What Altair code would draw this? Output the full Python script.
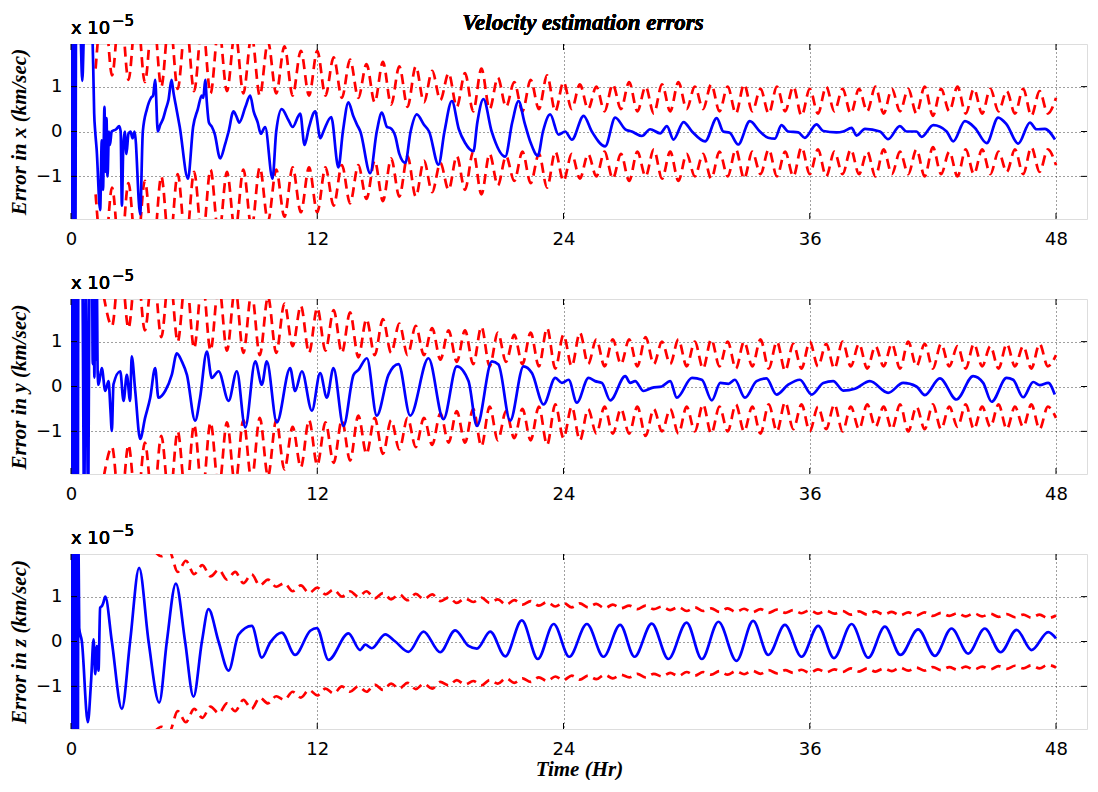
import altair as alt
import pandas as pd

# ---------------- data (units of 1e-5 km/sec, time in hours) ----------------
XTICKS = [0, 12, 24, 36, 48]
YTICKS = [-1, 0, 1]

# time base of the sigma bound curves (extrema every ~0.4 h)
T_SIG = [1.2, 1.6, 2.0, 2.4, 2.8, 3.2, 3.6, 4.0, 4.4, 4.8,
         5.2, 5.6, 6.0, 6.4, 6.8, 7.2, 7.6, 8.0, 8.4, 8.8,
         9.2, 9.6, 10.0, 10.4, 10.8, 11.2, 11.6, 12.0, 12.4, 12.8,
         13.2, 13.6, 14.0, 14.4, 14.8, 15.2, 15.6, 16.0, 16.4, 16.8,
         17.2, 17.6, 18.0, 18.4, 18.8, 19.2, 19.6, 20.0, 20.4, 20.8,
         21.2, 21.6, 22.0, 22.4, 22.8, 23.2, 23.6, 24.0, 24.4, 24.8,
         25.2, 25.6, 26.0, 26.4, 26.8, 27.2, 27.6, 28.0, 28.4, 28.8,
         29.2, 29.6, 30.0, 30.4, 30.8, 31.2, 31.6, 32.0, 32.4, 32.8,
         33.2, 33.6, 34.0, 34.4, 34.8, 35.2, 35.6, 36.0, 36.4, 36.8,
         37.2, 37.6, 38.0, 38.4, 38.8, 39.2, 39.6, 40.0, 40.4, 40.8,
         41.2, 41.6, 42.0, 42.4, 42.8, 43.2, 43.6, 44.0, 44.4, 44.8,
         45.2, 45.6, 46.0, 46.4, 46.8, 47.2, 47.6, 48.0]

SIG_X = [1.4, 3.0, 1.25, 2.9, 1.15, 2.8, 1.1, 2.7, 1.0, 2.6,
         0.95, 2.5, 0.9, 2.45, 0.85, 2.35, 0.9, 2.25, 0.85, 2.15,
         0.8, 2.0, 0.85, 1.9, 0.8, 1.8, 0.8, 1.8, 0.8, 1.65,
         0.75, 1.6, 0.75, 1.5, 0.65, 1.55, 0.6, 1.45, 0.55, 1.45,
         0.65, 1.35, 0.7, 1.3, 0.55, 1.3, 0.45, 1.4, 0.5, 1.2,
         0.55, 1.1, 0.45, 1.15, 0.5, 1.25, 0.45, 1.1, 0.5, 1.05,
         0.5, 1.0, 0.45, 1.05, 0.5, 1.1, 0.45, 1.0, 0.4, 1.05,
         0.45, 1.1, 0.5, 1.0, 0.5, 1.05, 0.45, 1.0, 0.4, 1.05,
         0.45, 0.95, 0.4, 1.0, 0.45, 1.0, 0.35, 0.95, 0.4, 1.0,
         0.45, 0.95, 0.4, 0.95, 0.45, 1.0, 0.4, 0.95, 0.45, 0.95,
         0.4, 1.0, 0.35, 0.95, 0.45, 1.0, 0.4, 0.95, 0.4, 0.95,
         0.45, 0.9, 0.4, 0.95, 0.35, 0.9, 0.4, 0.75]

SIG_Y = [None, 2.0, 1.35, 2.9, 1.3, 2.8, 1.25, 2.7, 1.1, 2.6,
         1.0, 2.5, 0.85, 2.4, 0.8, 2.3, 0.8, 2.2, 0.75, 2.1,
         0.7, 2.0, 0.75, 1.85, 0.9, 1.8, 0.75, 1.75, 0.8, 1.7,
         0.75, 1.65, 0.65, 1.5, 0.7, 1.5, 0.75, 1.4, 0.7, 1.35,
         0.7, 1.3, 0.6, 1.25, 0.55, 1.25, 0.5, 1.33, 0.45, 1.2,
         0.55, 1.15, 0.5, 1.2, 0.45, 1.3, 0.4, 1.15, 0.45, 1.2,
         0.5, 1.05, 0.45, 1.05, 0.5, 1.05, 0.45, 1.1, 0.5, 1.0,
         0.5, 1.05, 0.45, 1.0, 0.4, 1.05, 0.45, 1.0, 0.4, 1.0,
         0.45, 1.05, 0.4, 1.0, 0.35, 0.95, 0.4, 1.0, 0.45, 0.95,
         0.4, 1.0, 0.45, 0.95, 0.4, 0.9, 0.45, 0.95, 0.4, 1.0,
         0.45, 0.95, 0.4, 0.95, 0.45, 0.9, 0.4, 0.95, 0.45, 0.9,
         0.4, 0.95, 0.45, 0.9, 0.4, 0.95, 0.45, 0.7]

SIG_Z = [None, None, None, None, None, None, 2.3, 2.05, 1.9, 2.0,
         1.55, 1.8, 1.5, 1.7, 1.45, 1.6, 1.38, 1.55, 1.3, 1.5,
         1.25, 1.38, 1.22, 1.3, 1.12, 1.25, 1.08, 1.2, 1.05, 1.16,
         1.0, 1.12, 1.0, 1.12, 0.96, 1.08, 0.94, 1.05, 0.92, 1.06,
         0.94, 1.05, 0.9, 0.98, 0.86, 0.96, 0.88, 0.98, 0.86, 0.94,
         0.82, 0.92, 0.82, 0.9, 0.8, 0.88, 0.78, 0.86, 0.76, 0.85,
         0.76, 0.84, 0.74, 0.82, 0.74, 0.8, 0.72, 0.8, 0.72, 0.78,
         0.7, 0.77, 0.68, 0.76, 0.68, 0.74, 0.66, 0.74, 0.66, 0.73,
         0.65, 0.72, 0.64, 0.71, 0.64, 0.7, 0.63, 0.7, 0.62, 0.69,
         0.62, 0.68, 0.6, 0.67, 0.6, 0.67, 0.6, 0.66, 0.58, 0.65,
         0.58, 0.65, 0.57, 0.64, 0.57, 0.63, 0.56, 0.63, 0.56, 0.62,
         0.55, 0.61, 0.54, 0.6, 0.53, 0.6, 0.52, 0.58]

# estimation errors (time h, error)
ERR_X = [(0, 3), (0.03, -3), (0.06, 3), (0.09, -3), (0.12, 3), (0.15, -3), (0.18, 3), (0.21, -3), (0.25, 3),
         (0.45, 2.4), (0.55, 1.13), (0.65, 2.4), (1.0, 2.6), (1.08, 1.5), (1.13, 0.4), (1.18, 0.0), (1.25, -0.4),
         (1.42, -1.75), (1.5, -0.2), (1.56, -1.3), (1.63, 0.55), (1.68, -0.9), (1.73, 0.3), (1.78, -1.0), (1.85, 0.0),
         (1.9, -0.3), (1.98, 0.0), (2.2, 0.05), (2.35, 0.12), (2.42, 0.0), (2.48, -1.65), (2.55, -0.3), (2.62, 0.0),
         (2.7, -0.5), (2.8, -0.05), (2.9, 0.0), (3.0, -0.15), (3.1, 0.0), (3.37, -1.85), (3.5, 0.0), (3.7, 0.5),
         (3.9, 0.75), (4.0, 0.8), (4.1, 1.15), (4.23, 0.0), (4.35, 0.15), (4.5, 0.3), (4.62, 0.5), (4.75, 0.7),
         (4.9, 1.15), (5.0, 0.85), (5.1, 0.6), (5.3, 0.1), (5.7, -1.05), (5.95, 0.1), (6.18, 0.5), (6.37, 0.8),
         (6.45, 0.75), (6.54, 1.15), (6.62, 0.65), (6.72, 0.2), (6.87, 0.1), (7.0, -0.05), (7.27, -0.6), (7.5, -0.3),
         (7.68, 0.0), (7.92, 0.45), (8.05, 0.35), (8.2, 0.2), (8.5, 0.55), (8.73, 0.8), (8.9, 0.45), (9.1, 0.2),
         (9.25, -0.05), (9.46, 0.1), (9.82, -1.05), (10.0, 0.0), (10.27, 0.5), (10.6, 0.25), (10.8, 0.1),
         (11.17, 0.4), (11.38, -0.3), (11.6, 0.1), (11.9, 0.45), (12.15, -0.15), (12.3, 0.0), (12.68, 0.32),
         (13.03, -0.8), (13.25, 0.0), (13.52, 0.65), (13.75, 0.35), (13.93, 0.16), (14.1, 0.0), (14.58, -0.93),
         (14.9, 0.0), (15.15, 0.42), (15.4, 0.1), (15.55, 0.08), (15.8, -0.1), (16.0, -0.5), (16.29, -0.7),
         (16.55, 0.0), (16.85, 0.38), (17.2, 0.15), (17.45, 0.0), (17.91, -0.74), (18.2, 0.0), (18.56, 0.68),
         (18.9, 0.05), (19.2, -0.25), (19.61, -0.44), (19.8, 0.2), (20.1, 0.72), (20.5, 0.0), (21.16, -0.56),
         (21.5, 0.2), (21.81, 0.68), (22.1, 0.2), (22.4, -0.25), (22.75, -0.54), (23.0, 0.0), (23.35, 0.38),
         (23.76, -0.07), (24.08, 0.0), (24.41, -0.18), (24.98, 0.35), (25.38, 0.0), (26.03, -0.33), (26.52, 0.31),
         (27.01, 0.05), (27.33, 0.0), (27.82, -0.1), (28.22, 0.05), (28.71, -0.04), (29.04, 0.12), (29.36, -0.18),
         (29.85, 0.21), (30.26, 0.0), (30.9, -0.22), (31.47, 0.3), (31.78, 0.0), (32.1, -0.03), (32.51, -0.29),
         (33.08, 0.23), (33.57, 0.0), (33.97, -0.14), (34.3, -0.16), (34.62, 0.14), (34.95, 0.0), (35.44, -0.02),
         (35.76, -0.14), (36.33, 0.16), (36.66, 0.01), (37.3, -0.02), (37.63, 0.0), (38.04, 0.08), (38.28, -0.09),
         (38.69, 0.06), (39.42, 0.0), (39.82, -0.17), (40.39, 0.12), (40.72, 0.0), (41.2, 0.0), (41.45, -0.12),
         (42.02, 0.14), (42.67, 0.0), (42.99, -0.22), (43.56, 0.23), (44.05, 0.08), (44.62, -0.26), (45.18, 0.31),
         (45.59, 0.16), (46.16, -0.27), (46.73, 0.2), (47.05, 0.05), (47.46, 0.06), (47.95, -0.18)]

ERR_Y = [(0, 3), (0.03, -3), (0.06, 3), (0.09, -3), (0.12, 3), (0.15, -3), (0.18, 3), (0.21, -3), (0.24, 3),
         (0.27, -3), (0.3, 3), (0.33, -3), (0.36, 3), (0.55, 2.6), (0.64, -2.8), (0.72, 2.6), (0.84, -2.8),
         (0.9, 2.6), (1.02, 3.0), (1.06, 0.5), (1.1, 2.5), (1.14, 0.2), (1.18, 2.4), (1.22, 0.6), (1.26, 2.2),
         (1.3, 0.3), (1.34, 0.04), (1.5, 0.41), (1.67, -0.1), (1.83, 0.12), (1.92, -0.5), (1.99, -0.99),
         (2.07, 0.05), (2.4, 0.34), (2.56, -0.32), (2.72, 0.26), (2.88, -0.32), (2.96, 0.67), (3.13, -0.1),
         (3.37, -1.17), (3.61, -0.7), (3.86, -0.25), (4.1, 0.41), (4.26, -0.25), (4.59, -0.1), (4.91, 0.26),
         (5.16, 0.74), (5.4, 0.56), (5.65, 0.26), (6.05, -0.76), (6.29, -0.25), (6.62, 0.78), (6.86, 0.19),
         (7.19, 0.34), (7.68, -0.32), (8.08, 0.34), (8.49, -0.91), (8.98, 0.56), (9.3, 0.04), (9.54, 0.56),
         (10.03, -0.8), (10.68, 0.41), (10.92, -0.1), (11.25, 0.34), (11.74, -0.54), (12.14, 0.3), (12.47, -0.25),
         (12.79, 0.41), (13.28, -0.88), (13.77, 0.26), (14.01, 0.37), (14.42, 0.63), (14.9, -0.65), (15.47, 0.26),
         (15.96, 0.5), (16.53, -0.65), (17.42, 0.63), (18.15, -0.73), (18.8, 0.45), (19.37, 0.12), (19.78, -0.88),
         (20.51, 0.56), (20.83, 0.49), (21.4, -0.76), (22.05, 0.45), (22.46, 0.3), (23.03, -0.4), (23.6, 0.19),
         (23.92, 0.08), (24.25, 0.15), (24.65, -0.36), (25.22, 0.19), (25.54, 0.12), (25.87, 0.08), (26.28, -0.31),
         (27.01, 0.23), (27.25, 0.08), (27.49, 0.12), (27.9, -0.1), (28.31, -0.03), (28.79, 0.0), (29.2, 0.12),
         (29.52, -0.25), (30.26, 0.19), (30.74, 0.15), (31.23, -0.31), (31.64, 0.08), (32.04, 0.06), (32.35, 0.15),
         (32.84, -0.25), (33.41, 0.12), (33.89, 0.18), (34.38, -0.18), (34.95, 0.04), (35.52, 0.15), (36.09, -0.18),
         (36.66, 0.08), (37.14, 0.12), (37.63, -0.09), (38.2, -0.05), (38.93, 0.12), (39.82, -0.14), (40.55, 0.08),
         (41.2, 0.0), (41.61, -0.19), (42.34, 0.18), (43.15, -0.29), (43.96, 0.23), (44.45, 0.08), (44.86, -0.34),
         (45.59, 0.19), (45.91, 0.15), (46.4, -0.24), (46.89, 0.1), (47.21, 0.03), (47.62, 0.08), (47.94, -0.18)]

ERR_Z = [(0, 3), (0.03, -3), (0.06, 3), (0.09, -3), (0.12, 3), (0.15, -3), (0.18, 3), (0.21, -3), (0.24, 3),
         (0.27, -3), (0.3, 3), (0.33, -3), (0.36, 2.5), (0.4, 0.3), (0.53, 0.0), (0.82, -1.8), (0.98, -0.87),
         (1.1, 0.05), (1.18, -0.73), (1.26, -0.1), (1.34, -0.65), (1.42, 0.75), (1.52, 0.8), (1.58, 0.87),
         (1.67, 1.0), (1.99, 0.0), (2.48, -1.5), (2.88, 0.0), (3.32, 1.64), (3.78, 0.0), (4.3, -1.36), (4.67, 0.0),
         (5.11, 1.29), (5.56, 0.0), (5.97, -1.23), (6.38, 0.0), (6.7, 0.72), (7.19, 0.0), (7.68, -0.65),
         (8.16, 0.15), (8.81, 0.35), (9.3, -0.36), (9.71, -0.02), (10.27, 0.2), (10.92, -0.3), (11.66, 0.24),
         (11.98, 0.3), (12.55, -0.41), (13.52, 0.18), (14.09, -0.19), (14.34, -0.07), (14.66, -0.15), (15.31, 0.16),
         (15.8, 0.0), (16.45, -0.23), (17.18, 0.22), (17.99, -0.24), (18.72, 0.25), (19.37, -0.1), (19.78, -0.16),
         (20.43, 0.22), (21.16, -0.33), (21.97, 0.47), (22.75, -0.39), (23.52, 0.39), (24.28, -0.34), (25.14, 0.39),
         (25.95, -0.34), (26.76, 0.37), (27.46, -0.34), (28.3, 0.4), (29.11, -0.39), (30.0, 0.42), (30.74, -0.39),
         (31.55, 0.44), (32.43, -0.43), (33.24, 0.46), (33.98, -0.3), (34.79, 0.37), (35.6, -0.34), (36.41, 0.35),
         (37.18, -0.37), (38.04, 0.39), (38.85, -0.36), (39.66, 0.33), (40.42, -0.3), (41.28, 0.27), (42.1, -0.32),
         (42.91, 0.29), (43.72, -0.27), (44.53, 0.29), (45.3, -0.24), (46.08, 0.26), (46.81, -0.19), (47.62, 0.21),
         (48.0, 0.07)]

YLABELS = ["Error in x (km/sec)", "Error in y (km/sec)", "Error in z (km/sec)"]
TITLE = "Velocity estimation errors"
XTITLE = "Time (Hr)"

# ---------------- layout / style ----------------
W = 1016
H = 175
XDOM = [0, 49.51]
YDOM = [-1.95, 1.95]
BLUE = "#0000ff"
RED = "#ff0000"
SERIF = "Liberation Serif"
SANS = "DejaVu Sans"
TICKFS = 18


def panel(err, sig, ylabel, xtitle=None, main_title=None):
    bdf = pd.DataFrame(err, columns=["t", "v"])
    s = pd.DataFrame({"t": T_SIG, "s": sig}).dropna()
    rdf = pd.concat([
        pd.DataFrame({"t": s["t"], "v": s["s"], "k": "upper"}),
        pd.DataFrame({"t": s["t"], "v": -s["s"], "k": "lower"}),
    ], ignore_index=True)

    xaxis = dict(values=XTICKS, format="d", grid=True, gridColor="black", gridDash=[1, 3],
                 gridOpacity=0.75, ticks=False, domain=False, labelFont=SANS, labelFontSize=TICKFS,
                 labelColor="black", labelPadding=11, labelFlush=False, labelOverlap=False)
    if xtitle:
        xaxis.update(title=xtitle, titleFont=SERIF, titleFontSize=21, titleFontStyle="italic",
                     titleFontWeight="bold", titleColor="black", titlePadding=0)
    else:
        xaxis.update(title=None)
    x = alt.X("t:Q", scale=alt.Scale(domain=XDOM, nice=False, zero=False), axis=alt.Axis(**xaxis))
    y = alt.Y("v:Q", scale=alt.Scale(domain=YDOM, nice=False, zero=False),
              axis=alt.Axis(values=YTICKS, format="d", grid=True, gridColor="black", gridDash=[1, 3],
                            gridOpacity=0.75, ticks=False, domain=False, labelFont=SANS,
                            labelFontSize=TICKFS, labelColor="black", labelPadding=9,
                            title=ylabel, titleFont=SERIF, titleFontSize=21, titleFontStyle="italic",
                            titleFontWeight="bold", titleColor="black", titlePadding=6))

    red = alt.Chart(rdf).mark_line(color=RED, strokeWidth=2.7, strokeDash=[10, 6], clip=True,
                                   interpolate="monotone").encode(x=x, y=y, detail="k:N")
    blue = alt.Chart(bdf).mark_line(color=BLUE, strokeWidth=2.7, clip=True,
                                    interpolate="monotone").encode(x="t:Q", y="v:Q")

    xt = pd.DataFrame({"t": XTICKS})
    yt = pd.DataFrame({"v": YTICKS})
    tick_top = alt.Chart(xt).mark_rule(color="black", strokeWidth=1).encode(
        x="t:Q", y=alt.value(0), y2=alt.value(6))
    tick_bot = alt.Chart(xt).mark_rule(color="black", strokeWidth=1).encode(
        x="t:Q", y=alt.value(H), y2=alt.value(H - 6))
    tick_l = alt.Chart(yt).mark_rule(color="black", strokeWidth=1).encode(
        y="v:Q", x=alt.value(0), x2=alt.value(6))
    tick_r = alt.Chart(yt).mark_rule(color="black", strokeWidth=1).encode(
        y="v:Q", x=alt.value(W), x2=alt.value(W - 6))

    exp_base = alt.Chart(xt).mark_text(text="x 10", align="left", baseline="alphabetic", font=SANS,
                                       fontSize=TICKFS, color="black").encode(
        x=alt.value(0), y=alt.value(-10))
    exp_sup = alt.Chart(xt).mark_text(text="\u22125", align="left", baseline="alphabetic", font=SANS,
                                      fontSize=15, color="black").encode(
        x=alt.value(41), y=alt.value(-18.5))

    layers = [red, blue, tick_top, tick_bot, tick_l, tick_r, exp_base, exp_sup]
    if main_title:
        layers.append(alt.Chart(xt).mark_text(text=main_title, align="center", baseline="alphabetic",
                                              font=SERIF, fontSize=23, fontStyle="italic",
                                              fontWeight="bold", color="black").encode(
            x=alt.value(W / 2 + 4), y=alt.value(-14)))
    return alt.layer(*layers).properties(width=W, height=H)


p1 = panel(ERR_X, SIG_X, YLABELS[0], main_title=TITLE)
p2 = panel(ERR_Y, SIG_Y, YLABELS[1])
p3 = panel(ERR_Z, SIG_Z, YLABELS[2], xtitle=XTITLE)

chart = alt.vconcat(p1, p2, p3, spacing=80, bounds="flush").properties(
    padding={"left": -1, "top": 3.0, "right": 0, "bottom": 0}
).configure_view(stroke="black", strokeWidth=1).configure(background="white")

chart.save("out.html", embed_options={"renderer": "svg", "actions": False})
